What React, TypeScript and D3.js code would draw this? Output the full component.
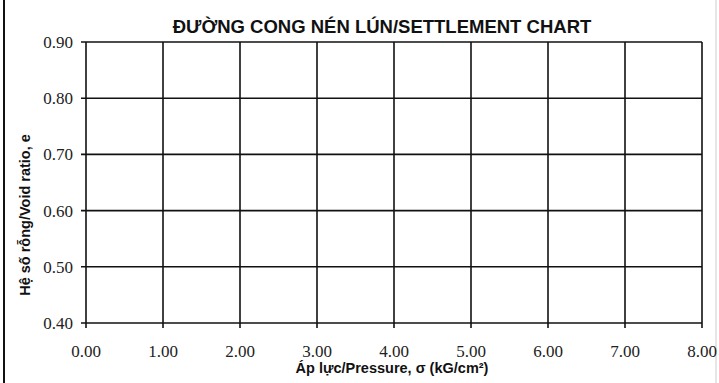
import React from "react";
import * as d3 from "d3";

const title = "ĐƯỜNG CONG NÉN LÚN/SETTLEMENT CHART";
const xTitle = "Áp lực/Pressure, σ (kG/cm²)";
const yTitle = "Hệ số rỗng/Void ratio, e";
const xDomain = [0, 8];
const yDomain = [0.4, 0.9];
const xTicks = [0, 1, 2, 3, 4, 5, 6, 7, 8];
const yTicks = [0.4, 0.5, 0.6, 0.7, 0.8, 0.9];

const W = 719;
const H = 383;
const m = { left: 86, right: 702, top: 42, bottom: 323 };

export default function App() {
  const x = d3.scaleLinear().domain(xDomain).range([m.left, m.right]);
  const y = d3.scaleLinear().domain(yDomain).range([m.bottom, m.top]);
  const fmt = d3.format(".2f");
  const tickFont = "'Liberation Serif', 'DejaVu Serif', serif";
  const sansBold = "'Liberation Sans', Arial, sans-serif";
  return (
    <svg
      width={W}
      height={H}
      style={{ position: "absolute", left: 0, top: 0, background: "#fff" }}
    >
      <rect x={0} y={0} width={W} height={H} fill="#fff" />
      <line x1={4} x2={4} y1={0} y2={H} stroke="#111" strokeWidth={2} />
      <line x1={716} x2={716} y1={0} y2={H} stroke="#ccc" strokeWidth={1} />
      <text
        x={382}
        y={33}
        textAnchor="middle"
        fontFamily="'Liberation Sans Narrow', 'Arial Narrow', sans-serif"
        fontWeight="bold"
        fontSize={18.5}
        fill="#111"
      >
        {title}
      </text>
      {/* grid */}
      {xTicks.map((t) => (
        <line
          key={"gx" + t}
          x1={x(t)}
          x2={x(t)}
          y1={m.top}
          y2={m.bottom + 5}
          stroke="#111"
          strokeWidth={1.6}
        />
      ))}
      {yTicks.map((t) => (
        <line
          key={"gy" + t}
          x1={m.left - 5}
          x2={m.right}
          y1={y(t)}
          y2={y(t)}
          stroke="#111"
          strokeWidth={1.6}
        />
      ))}
      {yTicks.map((t) => (
        <text
          key={"ly" + t}
          x={73}
          y={y(t) + 6}
          textAnchor="end"
          fontFamily={tickFont}
          fontSize={17}
          fill="#222"
        >
          {fmt(t)}
        </text>
      ))}
      {xTicks.map((t) => (
        <text
          key={"lx" + t}
          x={x(t)}
          y={357}
          textAnchor="middle"
          fontFamily={tickFont}
          fontSize={17}
          fill="#222"
        >
          {fmt(t)}
        </text>
      ))}
      <text
        x={392}
        y={373}
        textAnchor="middle"
        fontFamily={sansBold}
        fontWeight="bold"
        fontSize={14.5}
        fill="#111"
      >
        {xTitle}
      </text>
      <text
        transform={`translate(30, 215) rotate(-90)`}
        textAnchor="middle"
        fontFamily={sansBold}
        fontWeight="bold"
        fontSize={14.5}
        fill="#111"
      >
        {yTitle}
      </text>
    </svg>
  );
}
